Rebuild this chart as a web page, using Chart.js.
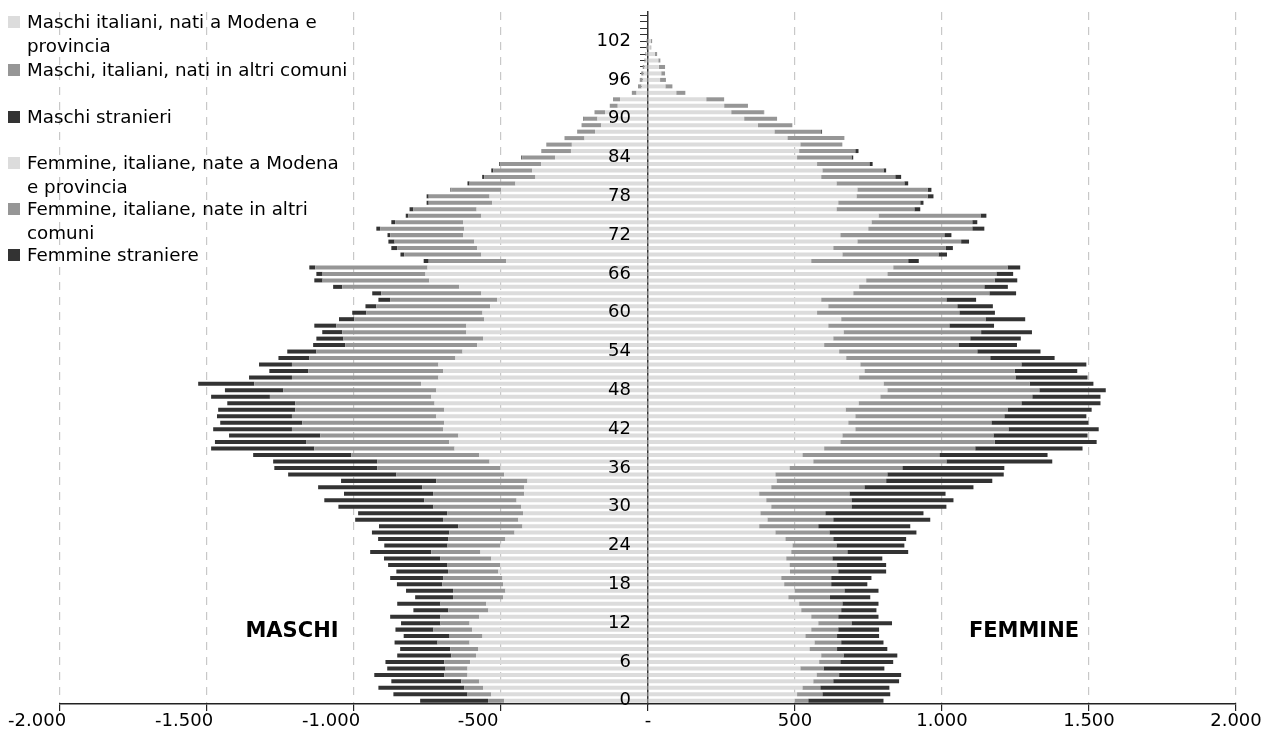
<!DOCTYPE html>
<html>
<head>
<meta charset="utf-8">
<script src="https://cdn.jsdelivr.net/npm/chart.js@4.4.0/dist/chart.umd.min.js"></script>
<style>
  body { margin: 0; background: #fff; }
  #wrap { position: relative; width: 1267px; height: 744px; font-family: "DejaVu Sans", Verdana, sans-serif; }
  #chart { position: absolute; left: 0; top: 0; }
  .leg { position: absolute; left: 8px; font-size: 18.3px; line-height: 24px; color: #000; white-space: nowrap; }
  .leg i { position: absolute; left: 0; top: 6px; width: 12px; height: 12px; }
  .leg span { display: block; margin-left: 19px; }
  .lab { position: absolute; font-weight: bold; font-size: 21px; color: #000; transform: translate(-50%, -50%); }
</style>
</head>
<body>
<div id="wrap">
  <canvas id="chart" width="1267" height="744"></canvas>
  <div id="legend"></div>
  <div class="lab" style="left:292px; top:630px;">MASCHI</div>
  <div class="lab" style="left:1024px; top:630px;">FEMMINE</div>
</div>
<script>
// eta' 0..106 (valori letti fino a 103, oltre sono vuoti)
const ages = Array.from({ length: 107 }, (_, i) => i);

const seriesNames = [
  "Maschi italiani, nati a Modena e<br>provincia",
  "Maschi, italiani, nati in altri comuni",
  "Maschi stranieri",
  "Femmine, italiane, nate a Modena<br>e provincia",
  "Femmine, italiane, nate in altri<br>comuni",
  "Femmine straniere"
];
const seriesColors = ["#dcdcdc", "#969696", "#333333", "#dcdcdc", "#969696", "#333333"];

const maleModena = [
  489,533,561,574,614,614,605,585,577,607,
  563,598,607,574,543,550,493,485,493,495,
  509,502,533,570,502,485,454,427,441,425,
  431,447,421,421,410,489,502,539,574,658,
  676,645,697,693,720,693,726,737,720,772,
  713,697,713,655,631,581,561,618,618,557,
  563,537,513,567,642,744,757,750,482,567,
  581,591,629,625,629,567,583,530,539,499,
  451,383,394,363,316,262,259,216,180,159,
  172,146,103,95,39,22,18,15,12,8,
  6,4,3,0
];
const maleAltri = [
  55,81,64,61,79,75,88,84,96,109,
  112,132,99,132,136,156,170,178,207,202,
  171,180,174,167,180,195,222,218,256,258,
  299,314,310,347,310,367,419,382,435,477,
  487,470,514,483,491,507,474,549,521,567,
  498,459,498,497,497,449,475,422,442,442,
  395,387,364,340,398,363,350,382,264,262,
  272,271,248,286,231,248,215,216,207,170,
  156,174,132,140,112,101,87,68,61,67,
  47,36,27,24,16,12,10,8,6,4,
  3,2,2,2
];
const maleStranieri = [
  231,252,292,238,238,198,200,184,170,146,
  156,129,134,171,119,147,129,160,154,180,
  176,202,191,208,215,238,263,270,299,303,
  323,340,303,354,324,368,350,354,334,351,
  310,310,268,279,255,262,231,200,198,191,
  146,132,112,105,99,109,92,68,75,52,
  48,37,40,31,31,28,21,20,17,13,
  20,21,9,13,13,9,13,7,7,3,
  7,7,7,3,3,0,0,0,0,0,
  2,0,0,0,0,0,0,0,0,0,
  0,0,0,0
];
const femModena = [
  498,507,525,562,573,518,582,589,549,566,
  535,555,579,555,521,514,477,498,463,453,
  483,481,470,487,491,467,433,378,406,382,
  419,402,378,419,437,433,481,562,525,599,
  654,661,705,681,705,672,716,790,814,801,
  718,736,722,674,650,599,630,665,613,657,
  575,613,589,698,718,742,814,834,555,661,
  630,712,654,749,760,784,641,647,709,712,
  641,589,593,575,507,514,518,474,430,374,
  327,283,259,198,96,59,41,45,37,35,
  23,8,9,0
];
const femAltri = [
  47,86,61,68,77,79,72,76,94,91,
  108,92,113,92,136,147,142,170,160,170,
  164,162,157,191,150,163,184,201,224,221,
  273,290,307,317,373,381,384,453,466,514,
  525,514,521,487,507,551,554,517,517,497,
  532,511,548,490,470,457,466,468,412,491,
  484,439,426,463,426,437,371,389,330,327,
  382,353,354,354,343,347,265,279,242,239,
  231,252,208,178,185,191,143,194,159,117,
  112,111,81,61,31,24,20,13,21,7,
  8,3,5,3
];
const femStraniere = [
  256,231,235,224,211,207,180,183,171,144,
  143,139,138,137,120,123,137,116,123,137,
  163,167,170,207,231,248,296,313,330,334,
  323,347,327,371,361,396,347,360,368,365,
  347,320,307,330,279,286,269,232,226,217,
  245,213,221,219,215,199,172,173,152,135,
  121,121,101,91,80,77,57,43,36,29,
  25,27,24,41,17,20,20,11,20,13,
  13,20,9,11,6,11,0,0,3,0,
  0,1,0,0,0,0,0,0,0,0,
  0,0,0,0
];

const xTicks = [-2000, -1500, -1000, -500, 0, 500, 1000, 1500, 2000];

/* legenda in html */
const legend = document.getElementById("legend");
const legTops = [22, 70, 117, 163, 209, 255];
seriesNames.forEach((name, i) => {
  const d = document.createElement("div");
  d.className = "leg";
  d.style.top = (legTops[i] - 12) + "px";
  d.innerHTML = '<i style="background:' + seriesColors[i] + '"></i><span>' + name + '</span>';
  legend.appendChild(d);
});

function fmt(n) {
  if (n >= 1000) return Math.floor(n / 1000) + "." + String(n % 1000).padStart(3, "0");
  return String(n);
}

const neg = arr => arr.map(v => -v);
const plain = s => s.replace("<br>", " ");

const datasets = [
  { label: plain(seriesNames[0]), data: neg(maleModena), backgroundColor: seriesColors[0] },
  { label: plain(seriesNames[1]), data: neg(maleAltri), backgroundColor: seriesColors[1] },
  { label: plain(seriesNames[2]), data: neg(maleStranieri), backgroundColor: seriesColors[2] },
  { label: plain(seriesNames[3]), data: femModena, backgroundColor: seriesColors[3] },
  { label: plain(seriesNames[4]), data: femAltri, backgroundColor: seriesColors[4] },
  { label: plain(seriesNames[5]), data: femStraniere, backgroundColor: seriesColors[5] }
];

new Chart(document.getElementById("chart"), {
  type: "bar",
  data: { labels: ages, datasets: datasets },
  options: {
    responsive: false,
    animation: false,
    indexAxis: "y",
    devicePixelRatio: 1,
    layout: { padding: { left: 60, right: 31, top: 12, bottom: 0 } },
    datasets: { bar: { barPercentage: 0.62, categoryPercentage: 1, borderWidth: 0 } },
    plugins: { legend: { display: false }, tooltip: { enabled: false } },
    scales: {
      x: {
        type: "linear",
        stacked: true,
        min: -2000,
        max: 2000,
        afterBuildTicks: s => { s.ticks = xTicks.map(v => ({ value: v })); },
        afterFit: s => { s.height = 40; },
        ticks: {
          autoSkip: false,
          maxRotation: 0,
          padding: 0,
          color: "#000",
          font: { family: "DejaVu Sans", size: 18 },
          callback: v => v === 0 ? "-" : (v < 0 ? "-" + fmt(-v) + "        " : fmt(v))
        },
        grid: {
          color: c => (c.tick && c.tick.value === 0) ? "rgba(0,0,0,0)" : "#c8c8c8",
          lineWidth: 1.2,
          tickColor: "#222",
          tickLength: 7
        },
        border: { display: true, color: "#222", width: 1.5, dash: [8, 7] }
      },
      y: {
        type: "category",
        stacked: true,
        reverse: true,
        position: { x: 0 },
        afterFit: s => { s.paddingTop = 0; s.paddingBottom = 0; },
        ticks: {
          z: 1,
          autoSkip: false,
          padding: 0,
          color: "#000",
          font: { family: "DejaVu Sans", size: 18 },
          // spazi finali per staccare le etichette dall'asse
          callback: function (v, i) { return i % 6 === 0 ? this.getLabelForValue(v) + "   " : ""; }
        },
        grid: { drawOnChartArea: false, offset: false, tickLength: 7, tickColor: "#333" },
        border: { display: true, color: "#333", width: 1.5 }
      }
    }
  }
});
</script>
</body>
</html>
